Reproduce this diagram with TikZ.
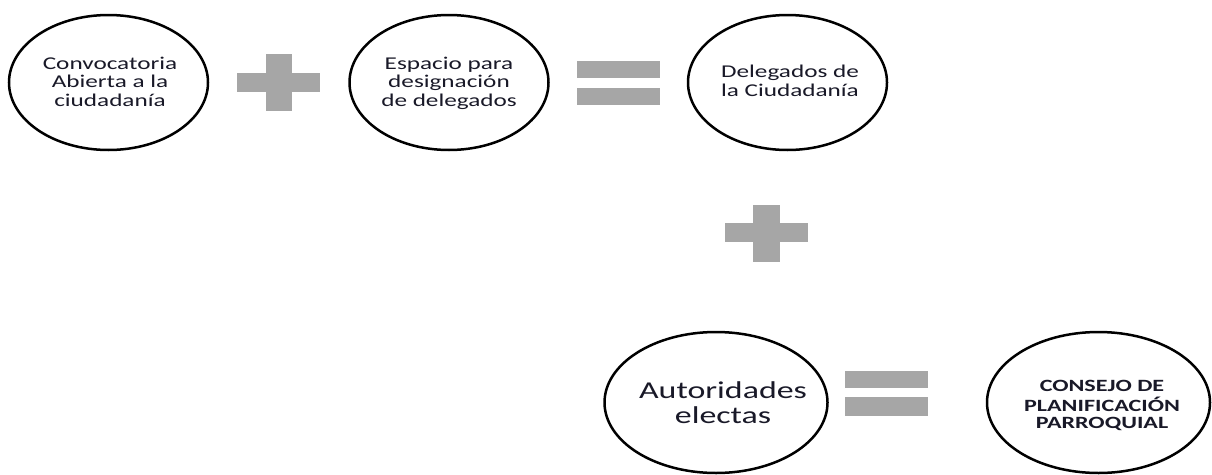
\documentclass[tikz,border=0pt]{standalone}
\usepackage{fontspec}
\setmainfont{Carlito}
\usepackage{graphicx}
\usetikzlibrary{shapes.geometric}
\definecolor{symgray}{RGB}{166,166,166}
\definecolor{txtcol}{RGB}{25,25,40}
\newcommand\widetxt[3]{\scalebox{1.4}[1]{\fontsize{#1}{#2}\selectfont\begin{tabular}{@{}c@{}}#3\end{tabular}}}
\tikzset{
  ell/.style={draw=black, line width=2.5pt, ellipse, inner sep=0pt, outer sep=0pt},
  topell/.style={ell, minimum width=199pt, minimum height=135pt},
  botell/.style={ell, minimum width=223pt, minimum height=141pt},
  txt/.style={inner sep=0pt, outer sep=0pt, text=txtcol},
  sym/.style={fill=symgray, draw=none},
}
\begin{document}
\begin{tikzpicture}[x=1pt,y=-1pt]
\useasboundingbox[fill=white] (0,0) rectangle (1212,474);

% top row
\node[topell] (e1) at (108.5,82.5) {};
\node[txt] (t1) at (110,83.8) {\widetxt{18}{18.5}{Convocatoria\\Abierta a la\\ciudadanía}};

\node[topell] (e2) at (449,82.5) {};
\node[txt] (t2) at (449,84) {\widetxt{18}{18.5}{Espacio para\\designación\\de delegados}};

\node[topell] (e3) at (787.5,82.5) {};
\node[txt] (t3) at (790,83.5) {\widetxt{18}{18.5}{Delegados de\\la Ciudadanía}};

% plus 1
\fill[sym] (266,54) rectangle (292,111);
\fill[sym] (237,73) rectangle (320,92);
% equal 1
\fill[sym] (577,61) rectangle (660,78);
\fill[sym] (577,88) rectangle (660,105);

% plus 2
\fill[sym] (753,205) rectangle (780,262);
\fill[sym] (725,223) rectangle (808,242);

% bottom row
\node[botell] (e4) at (716,402.5) {};
\node[txt] (t4) at (723,405.5) {\widetxt{24.2}{25}{Autoridades\\electas}};

% equal 2
\fill[sym] (845,371) rectangle (928,388);
\fill[sym] (845,397) rectangle (928,416);

\node[botell] (e5) at (1098.5,402.5) {};
\node[txt] (t5) at (1102,406.5) {\widetxt{17.2}{17}{\bfseries CONSEJO DE\\\bfseries PLANIFICACIÓN\\\bfseries PARROQUIAL}};
\end{tikzpicture}
\end{document}
